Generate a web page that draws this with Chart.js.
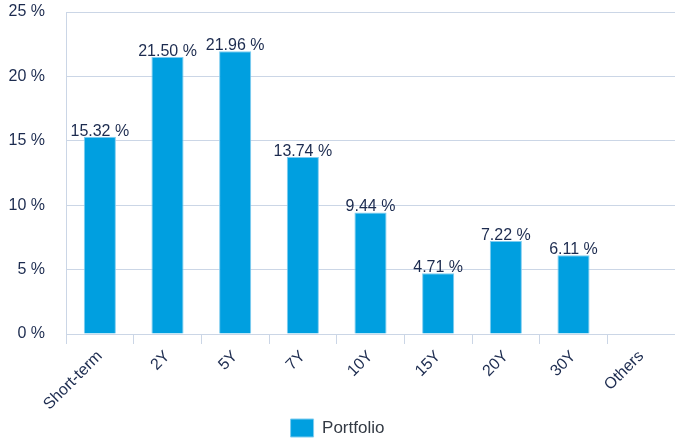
<!DOCTYPE html>
<html>
<head>
  <title>Portfolio</title>
  <script src="https://cdn.jsdelivr.net/npm/chart.js"></script>
  <style>
    body { margin: 0; background: #ffffff; }
    #wrap { width: 675px; height: 439px; }
  </style>
</head>
<body>
  <div id="wrap"><canvas id="myChart"></canvas></div>
  <script>
    // Chart values
    var categories = ['Short-term', '2Y', '5Y', '7Y', '10Y', '15Y', '20Y', '30Y', 'Others'];
    var portfolio = [15.32, 21.50, 21.96, 13.74, 9.44, 4.71, 7.22, 6.11, null];
    var yTicks = [0, 5, 10, 15, 20, 25];

    var textColor = '#1c2b4f';
    var gridColor = '#cbd6e6';
    var fontFamily = '"Liberation Sans", Arial, sans-serif';

    // value labels above the bars
    var valueLabels = {
      id: 'valueLabels',
      afterDatasetsDraw: function(chart) {
        var ctx = chart.ctx;
        var meta = chart.getDatasetMeta(0);
        ctx.save();
        ctx.font = '16px ' + fontFamily;
        ctx.fillStyle = textColor;
        ctx.textAlign = 'center';
        ctx.textBaseline = 'alphabetic';
        meta.data.forEach(function(bar, i) {
          var v = portfolio[i];
          if (v === null) return;
          ctx.fillText(v.toFixed(2) + ' %', bar.x, bar.y - 1);
        });
        ctx.restore();
      }
    };

    var ctx = document.getElementById('myChart').getContext('2d');
    var myChart = new Chart(ctx, {
      type: 'bar',
      data: {
        labels: categories,
        datasets: [{
          label: 'Portfolio',
          data: portfolio,
          backgroundColor: '#009fe0',
          borderColor: '#7fcdf0',
          borderWidth: 1,
          barPercentage: 0.5,
          categoryPercentage: 0.95
        }]
      },
      options: {
        responsive: true,
        maintainAspectRatio: false,
        animation: false,
        layout: { padding: { top: 12, right: 0, left: 0, bottom: -8 } },
        plugins: {
          legend: {
            position: 'bottom',
            labels: {
              boxWidth: 23,
              boxHeight: 18,
              padding: 2,
              color: '#333a44',
              font: { size: 17, family: fontFamily }
            }
          },
          tooltip: { enabled: false }
        },
        scales: {
          x: {
            grid: { display: true, drawOnChartArea: false, color: gridColor, tickLength: 10 },
            border: { color: gridColor },
            ticks: {
              maxRotation: 45,
              minRotation: 45,
              color: textColor,
              font: { size: 16, family: fontFamily }
            },
            afterFit: function(scale) { scale.height = 83; }
          },
          y: {
            min: 0,
            max: 25,
            afterBuildTicks: function(scale) {
              scale.ticks = yTicks.map(function(v) { return { value: v }; });
            },
            grid: { color: gridColor, tickColor: 'rgba(0,0,0,0)', tickLength: 21 },
            border: { color: gridColor },
            ticks: {
              padding: 0,
              color: textColor,
              font: { size: 16, family: fontFamily },
              callback: function(v) { return v + ' %'; }
            },
            afterFit: function(scale) { scale.width = 66; }
          }
        }
      },
      plugins: [valueLabels]
    });
  </script>
</body>
</html>
